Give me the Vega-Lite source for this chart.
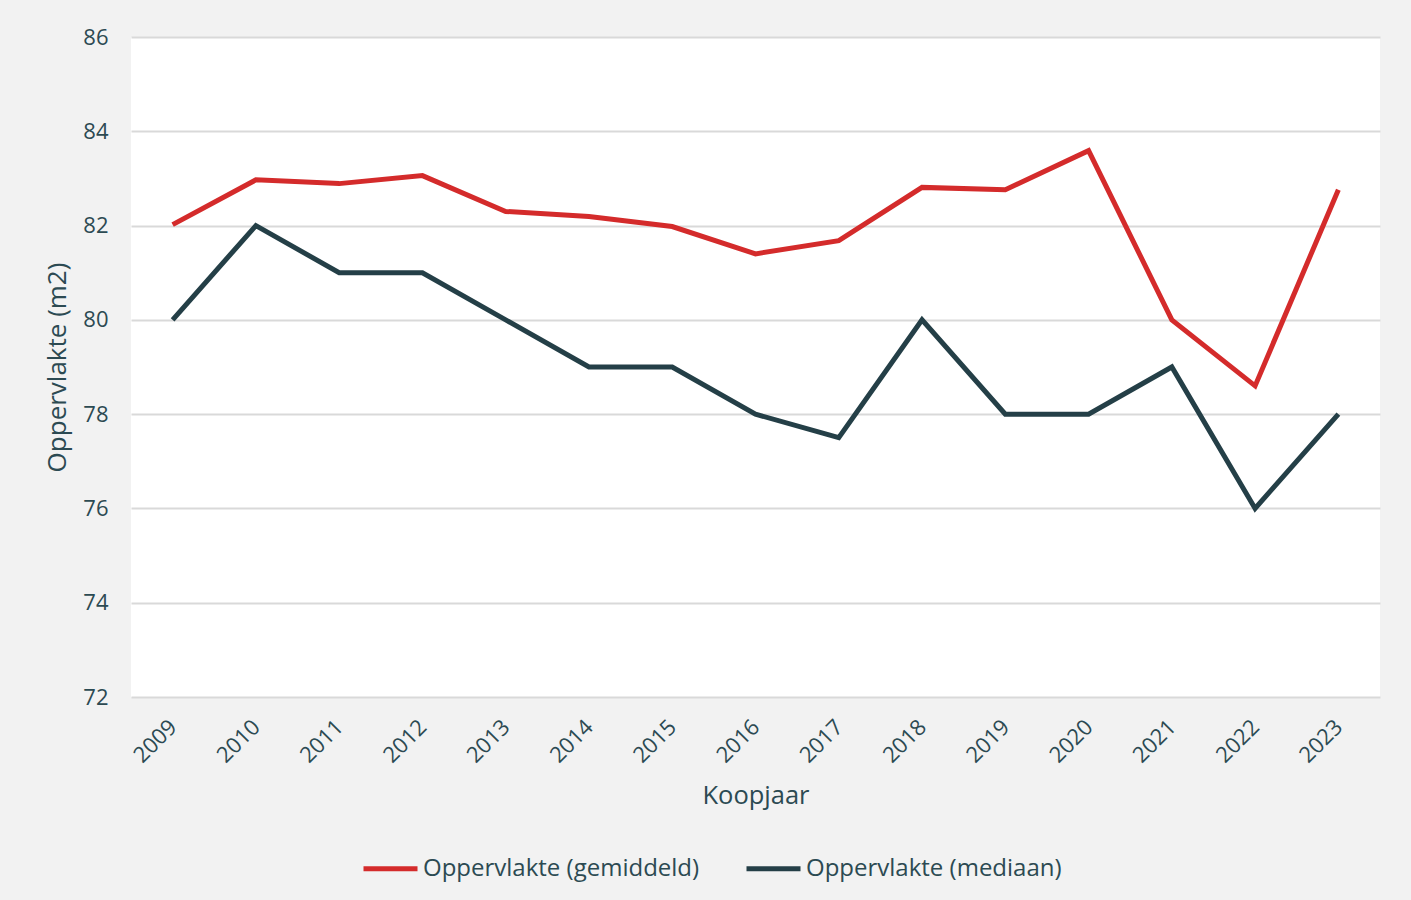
{
  "$schema": "https://vega.github.io/schema/vega-lite/v6.json",
  "width": 1249,
  "height": 660,
  "autosize": {"type": "none"},
  "padding": {"left": 131, "top": 37, "right": 31, "bottom": 203},
  "background": "#f2f2f2",
  "config": {
    "font": "Open Sans",
    "view": {"fill": "white", "stroke": null},
    "axis": {"labelColor": "#2c4a52", "titleColor": "#2c4a52", "domain": false, "ticks": false, "titleFontWeight": "normal"}
  },
  "data": {
    "values": [
      {"jaar": "2009", "reeks": "Oppervlakte (gemiddeld)", "waarde": 82.02},
      {"jaar": "2010", "reeks": "Oppervlakte (gemiddeld)", "waarde": 82.97},
      {"jaar": "2011", "reeks": "Oppervlakte (gemiddeld)", "waarde": 82.89},
      {"jaar": "2012", "reeks": "Oppervlakte (gemiddeld)", "waarde": 83.06},
      {"jaar": "2013", "reeks": "Oppervlakte (gemiddeld)", "waarde": 82.3},
      {"jaar": "2014", "reeks": "Oppervlakte (gemiddeld)", "waarde": 82.19},
      {"jaar": "2015", "reeks": "Oppervlakte (gemiddeld)", "waarde": 81.98},
      {"jaar": "2016", "reeks": "Oppervlakte (gemiddeld)", "waarde": 81.4},
      {"jaar": "2017", "reeks": "Oppervlakte (gemiddeld)", "waarde": 81.68},
      {"jaar": "2018", "reeks": "Oppervlakte (gemiddeld)", "waarde": 82.81},
      {"jaar": "2019", "reeks": "Oppervlakte (gemiddeld)", "waarde": 82.76},
      {"jaar": "2020", "reeks": "Oppervlakte (gemiddeld)", "waarde": 83.59},
      {"jaar": "2021", "reeks": "Oppervlakte (gemiddeld)", "waarde": 80.0},
      {"jaar": "2022", "reeks": "Oppervlakte (gemiddeld)", "waarde": 78.6},
      {"jaar": "2023", "reeks": "Oppervlakte (gemiddeld)", "waarde": 82.76},
      {"jaar": "2009", "reeks": "Oppervlakte (mediaan)", "waarde": 80},
      {"jaar": "2010", "reeks": "Oppervlakte (mediaan)", "waarde": 82},
      {"jaar": "2011", "reeks": "Oppervlakte (mediaan)", "waarde": 81},
      {"jaar": "2012", "reeks": "Oppervlakte (mediaan)", "waarde": 81},
      {"jaar": "2013", "reeks": "Oppervlakte (mediaan)", "waarde": 80},
      {"jaar": "2014", "reeks": "Oppervlakte (mediaan)", "waarde": 79},
      {"jaar": "2015", "reeks": "Oppervlakte (mediaan)", "waarde": 79},
      {"jaar": "2016", "reeks": "Oppervlakte (mediaan)", "waarde": 78},
      {"jaar": "2017", "reeks": "Oppervlakte (mediaan)", "waarde": 77.5},
      {"jaar": "2018", "reeks": "Oppervlakte (mediaan)", "waarde": 80},
      {"jaar": "2019", "reeks": "Oppervlakte (mediaan)", "waarde": 78},
      {"jaar": "2020", "reeks": "Oppervlakte (mediaan)", "waarde": 78},
      {"jaar": "2021", "reeks": "Oppervlakte (mediaan)", "waarde": 79},
      {"jaar": "2022", "reeks": "Oppervlakte (mediaan)", "waarde": 76},
      {"jaar": "2023", "reeks": "Oppervlakte (mediaan)", "waarde": 78}
    ]
  },
  "mark": {"type": "line", "strokeWidth": 5, "strokeJoin": "miter", "strokeCap": "butt"},
  "encoding": {
    "x": {
      "field": "jaar", "type": "ordinal",
      "scale": {"type": "point", "padding": 0.5},
      "axis": {"title": "Koopjaar", "titleFontSize": 25.5, "titlePadding": 17, "labelFontSize": 22, "labelAngle": -45, "labelPadding": 19, "labelOffset": -7, "grid": false}
    },
    "y": {
      "field": "waarde", "type": "quantitative",
      "scale": {"domain": [72, 86], "nice": false, "zero": false},
      "axis": {"title": "Oppervlakte (m2)", "titleFontSize": 26, "titlePadding": 12, "labelFontSize": 22, "labelPadding": 23, "values": [72, 74, 76, 78, 80, 82, 84, 86], "grid": true, "gridColor": "#d9d9d9", "gridWidth": 2}
    },
    "color": {
      "field": "reeks", "type": "nominal",
      "scale": {"domain": ["Oppervlakte (gemiddeld)", "Oppervlakte (mediaan)"], "range": ["#d42b2b", "#243f47"]},
      "legend": {
        "title": null, "orient": "none", "direction": "horizontal", "legendX": 230, "legendY": 802,
        "symbolType": "stroke", "symbolSize": 2916, "symbolStrokeWidth": 5, "labelFontSize": 24, "labelColor": "#2c4a52",
        "labelOffset": 3, "labelLimit": 0, "columnPadding": 36, "symbolOffset": 0
      }
    }
  }
}
